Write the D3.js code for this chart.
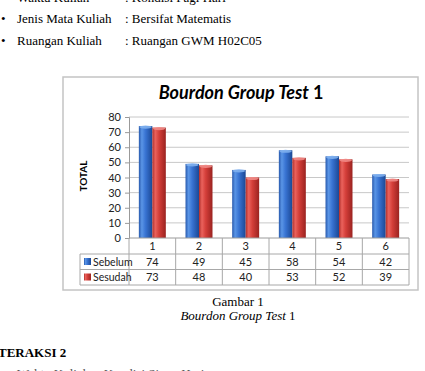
<!DOCTYPE html>
<html>
<head>
<meta charset="utf-8">
<script src="https://cdn.jsdelivr.net/npm/d3@7"></script>
<style>
body { margin: 0; background: #fff; }
svg { display: block; }
</style>
</head>
<body>
<svg id="page"></svg>
<script>
// data
var categories = ["1", "2", "3", "4", "5", "6"];
var seriesNames = ["Sebelum", "Sesudah"];
var sebelum = [74, 49, 45, 58, 54, 42];
var sesudah = [73, 48, 40, 53, 52, 39];
var yTicks = [0, 10, 20, 30, 40, 50, 60, 70, 80];

var values = [sebelum, sesudah];
var chartFont = "Lato, 'Open Sans', sans-serif";
var docFont = "'Liberation Serif', 'DejaVu Serif', serif";

var svg = d3.select("#page").attr("width", 425).attr("height", 371);

// gradients for the 3d look of the bars
var defs = svg.append("defs");
function makeGradient(id, stops) {
    var g = defs.append("linearGradient").attr("id", id)
        .attr("x1", 0).attr("x2", 1).attr("y1", 0).attr("y2", 0);
    stops.forEach(function (s) {
        g.append("stop").attr("offset", s[0]).attr("stop-color", s[1]);
    });
}
makeGradient("gBlue", [["0%", "#2859ad"], ["22%", "#5a95e6"], ["50%", "#3873d2"], ["100%", "#1b4894"]]);
makeGradient("gRed", [["0%", "#b02f2b"], ["22%", "#ea625c"], ["50%", "#d43e39"], ["100%", "#9a2320"]]);
var fills = ["url(#gBlue)", "url(#gRed)"];
var caps = ["#7fb0ee", "#f08a86"];

//Document text above the chart
function docLine(y, label, value, bullet) {
    if (bullet) {
        svg.append("text").attr("x", 1).attr("y", y)
            .style("font-family", docFont).style("font-size", "13px").text("\u2022");
    }
    svg.append("text").attr("x", 17).attr("y", y)
        .style("font-family", docFont).style("font-size", "13px").text(label);
    svg.append("text").attr("x", 125).attr("y", y)
        .style("font-family", docFont).style("font-size", "13px").text(value);
}
docLine(1.5, "Waktu Kuliah", ": Kondisi Pagi Hari", true);
docLine(23, "Jenis Mata Kuliah", ": Bersifat Matematis", true);
docLine(45, "Ruangan Kuliah", ": Ruangan GWM H02C05", true);

//Chart frame
svg.append("rect")
    .attr("x", 63).attr("y", 77).attr("width", 355).attr("height", 213)
    .attr("fill", "#fff").attr("stroke", "#c4c4c4").attr("stroke-width", 1.5);

//Title
var title = svg.append("text")
    .attr("x", 241).attr("y", 99)
    .attr("text-anchor", "middle")
    .style("font-family", chartFont).style("font-weight", "bold")
    .style("font-size", "18px");
title.append("tspan").style("font-style", "italic").text("Bourdon Group Test ");
title.append("tspan").text("1");

//Scales
var plotLeft = 129, plotRight = 409, plotTop = 117, plotBottom = 238;
var x0 = d3.scaleBand().domain(categories).range([plotLeft, plotRight]);
var x1 = d3.scaleBand().domain(seriesNames).range([0, x0.bandwidth()])
    .paddingInner(0).paddingOuter(0.73);
var y = d3.scaleLinear().domain([0, 80]).range([plotBottom, plotTop]);

//Gridlines
svg.append("g").selectAll("line").data(yTicks.slice(1)).enter().append("line")
    .attr("x1", plotLeft).attr("x2", plotRight)
    .attr("y1", function (d) { return y(d); }).attr("y2", function (d) { return y(d); })
    .attr("stroke", "#c8c8c8").attr("stroke-width", 1);

//Y axis
var yAxis = svg.append("g").attr("transform", "translate(" + plotLeft + ",0)")
    .call(d3.axisLeft(y).tickValues(yTicks).tickSize(4).tickPadding(4));
yAxis.select(".domain").attr("stroke", "#9a9a9a");
yAxis.selectAll(".tick line").attr("stroke", "#9a9a9a");
yAxis.selectAll("text").style("font-family", chartFont).style("font-size", "11px").attr("fill", "#222");

//Y axis title
svg.append("text")
    .attr("transform", "translate(87,176) rotate(-90)")
    .attr("text-anchor", "middle")
    .style("font-family", chartFont).style("font-weight", "bold").style("font-size", "10px")
    .text("TOTAL");

//Bars
seriesNames.forEach(function (name, s) {
    var g = svg.append("g");
    g.selectAll("rect.bar").data(values[s]).enter().append("rect")
        .attr("class", "bar")
        .attr("x", function (d, i) { return x0(categories[i]) + x1(name); })
        .attr("y", function (d) { return y(d); })
        .attr("width", x1.bandwidth())
        .attr("height", function (d) { return y(0) - y(d); })
        .attr("fill", fills[s]);
    g.selectAll("ellipse").data(values[s]).enter().append("ellipse")
        .attr("cx", function (d, i) { return x0(categories[i]) + x1(name) + x1.bandwidth() / 2; })
        .attr("cy", function (d) { return y(d) + 1; })
        .attr("rx", x1.bandwidth() / 2 - 0.5).attr("ry", 1.6)
        .attr("fill", caps[s]).attr("opacity", 0.9);
});

//Data table below the plot
var rowY = [238, 254, 269.5, 285];
var tableLeft = 80;
var grid = svg.append("g").attr("stroke", "#a8a8a8").attr("stroke-width", 1);
grid.append("line").attr("x1", plotLeft).attr("x2", plotRight).attr("y1", rowY[0]).attr("y2", rowY[0]).attr("stroke", "#9a9a9a");
rowY.slice(1).forEach(function (ry) {
    grid.append("line").attr("x1", tableLeft).attr("x2", plotRight).attr("y1", ry).attr("y2", ry);
});
grid.append("line").attr("x1", tableLeft).attr("x2", tableLeft).attr("y1", rowY[1]).attr("y2", rowY[3]);
grid.append("line").attr("x1", plotLeft).attr("x2", plotLeft).attr("y1", rowY[0]).attr("y2", rowY[3]);
grid.selectAll("line.col").data(categories).enter().append("line")
    .attr("class", "col")
    .attr("x1", function (d) { return x0(d) + x0.bandwidth(); })
    .attr("x2", function (d) { return x0(d) + x0.bandwidth(); })
    .attr("y1", rowY[0]).attr("y2", rowY[3]);

//Category labels
svg.append("g").selectAll("text").data(categories).enter().append("text")
    .attr("x", function (d) { return x0(d) + x0.bandwidth() / 2; })
    .attr("y", rowY[0] + 12)
    .attr("text-anchor", "middle")
    .style("font-family", chartFont).style("font-size", "11px").attr("fill", "#222")
    .text(function (d) { return d; });

//Value rows with legend keys
seriesNames.forEach(function (name, s) {
    var top = rowY[s + 1];
    svg.append("rect")
        .attr("x", 84).attr("y", top + 4).attr("width", 7).attr("height", 7)
        .attr("fill", fills[s]);
    svg.append("text")
        .attr("x", 93).attr("y", top + 11.5)
        .style("font-family", chartFont).style("font-size", "10.5px").attr("fill", "#222")
        .text(name);
    svg.append("g").selectAll("text").data(values[s]).enter().append("text")
        .attr("x", function (d, i) { return x0(categories[i]) + x0.bandwidth() / 2; })
        .attr("y", top + 11.5)
        .attr("text-anchor", "middle")
        .style("font-family", chartFont).style("font-size", "11px").attr("fill", "#222")
        .text(function (d) { return d; });
});

//Caption
svg.append("text").attr("x", 238).attr("y", 306).attr("text-anchor", "middle")
    .style("font-family", docFont).style("font-size", "13px").text("Gambar 1");
var cap = svg.append("text").attr("x", 238).attr("y", 320).attr("text-anchor", "middle")
    .style("font-family", docFont).style("font-size", "13px");
cap.append("tspan").style("font-style", "italic").text("Bourdon Group Test ");
cap.append("tspan").text("1");

//Next section heading
svg.append("text").attr("x", -2).attr("y", 357)
    .style("font-family", docFont).style("font-weight", "bold").style("font-size", "13px")
    .text("TERAKSI 2");
svg.append("text").attr("x", 17).attr("y", 378)
    .style("font-family", docFont).style("font-size", "13px").attr("fill", "#555")
    .text("Waktu Kuliah");
svg.append("text").attr("x", 97).attr("y", 378)
    .style("font-family", docFont).style("font-size", "13px").attr("fill", "#555")
    .text(": Kondisi Siang Hari");
</script>
</body>
</html>
